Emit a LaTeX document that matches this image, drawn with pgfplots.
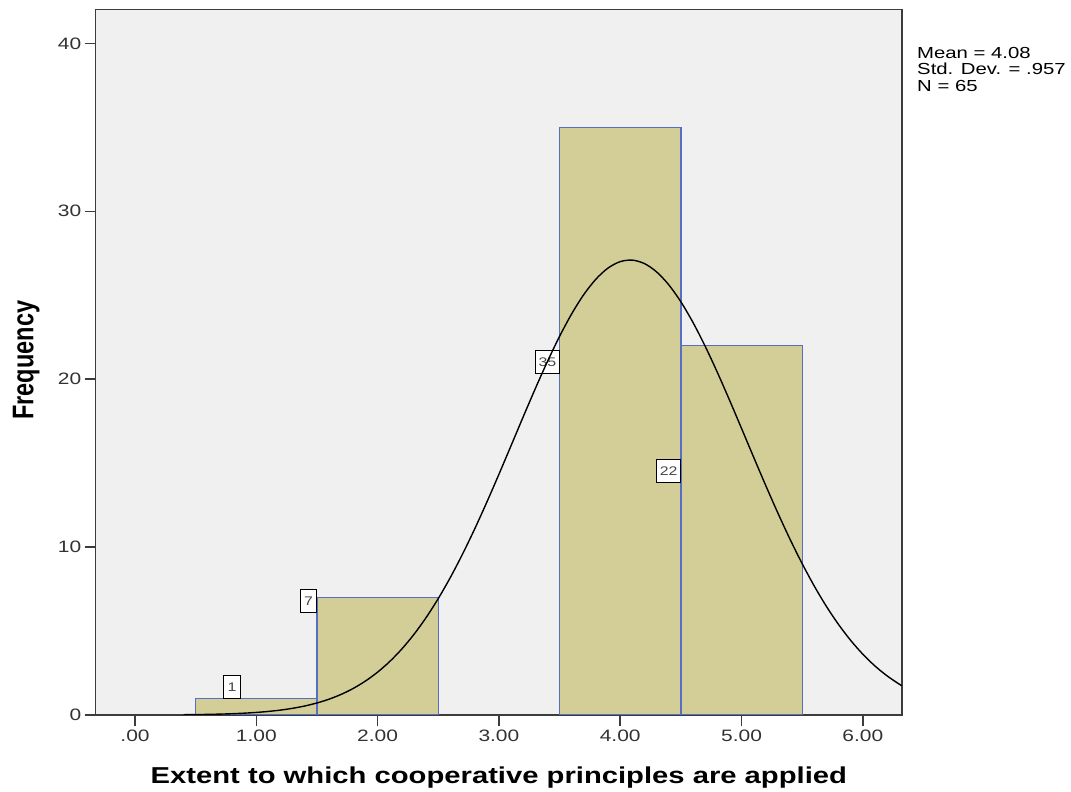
\documentclass[border=0pt]{standalone}
\usepackage{fontspec}
\setmainfont{Liberation Sans}[FakeStretch=1.27]
\newfontfamily\plainsans{Liberation Sans}
\usepackage{pgfplots}
\pgfplotsset{compat=1.18}
\usetikzlibrary{calc}
\definecolor{barfill}{RGB}{211,206,152}
\definecolor{barline}{RGB}{88,110,196}
\definecolor{bggray}{RGB}{240,240,240}
\definecolor{axisgray}{RGB}{60,60,60}
\definecolor{tickgray}{RGB}{50,50,50}
\definecolor{labelgray}{RGB}{70,70,70}
\tikzset{lbl/.style={draw=black, fill=white, line width=1pt, inner ysep=0pt, minimum height=23pt, font=\fontsize{12.5}{13}\selectfont, text=labelgray}}
\begin{document}
\begin{tikzpicture}
\begin{axis}[
  scale only axis, width=806.3pt, height=705.7pt,
  xmin=-0.324, xmax=6.323, ymin=0, ymax=42.03,
  axis background/.style={fill=bggray},
  axis line style={draw=axisgray, line width=1.5pt},
  xtick={0,1,2,3,4,5,6},
  xticklabels={.00,1.00,2.00,3.00,4.00,5.00,6.00},
  ytick={0,10,20,30,40},
  tick pos=left, tick align=outside, major tick length=11pt,
  tick style={draw=axisgray, line width=1.5pt},
  tick label style={font=\fontsize{16.5}{18}\selectfont, text=tickgray},
  /pgf/number format/assume math mode=true,
]
\addplot[ybar interval, fill=barfill, draw=barline, line width=1.3pt]
  coordinates {(0.5,1) (1.5,7) (2.5,7)};
\addplot[ybar interval, fill=barfill, draw=barline, line width=1.3pt]
  coordinates {(3.5,35) (4.5,22) (5.5,22)};
\node[lbl, inner xsep=4pt] at (axis cs:0.80,1.67) {1};
\node[lbl, inner xsep=4pt] at (axis cs:1.43,6.79) {7};
\node[lbl, inner xsep=3pt] at (axis cs:3.40,21.02) {35};
\node[lbl, inner xsep=3pt] at (axis cs:4.40,14.53) {22};
\addplot[black, line width=1.4pt, smooth] coordinates {
(0.4,0.017) (0.5,0.025) (0.6,0.036) (0.7,0.053) (0.8,0.076) (0.9,0.109)
(1.0,0.153) (1.1,0.213) (1.2,0.293) (1.3,0.399) (1.4,0.537) (1.5,0.716)
(1.6,0.943) (1.7,1.230) (1.8,1.586) (1.9,2.024) (2.0,2.553) (2.1,3.187)
(2.2,3.935) (2.3,4.805) (2.4,5.804) (2.5,6.935) (2.6,8.196) (2.7,9.581)
(2.8,11.077) (2.9,12.671) (3.0,14.334) (3.1,16.040) (3.2,17.755) (3.3,19.438)
(3.4,21.051) (3.5,22.551) (3.6,23.894) (3.7,25.043) (3.8,25.961) (3.9,26.622)
(4.0,27.002) (4.1,27.091) (4.2,26.885) (4.3,26.390) (4.4,25.624) (4.5,24.609)
(4.6,23.378) (4.7,21.967) (4.8,20.418) (4.9,18.771) (5.0,17.070) (5.1,15.355)
(5.2,13.661) (5.3,12.023) (5.4,10.466) (5.5,9.013) (5.6,7.676) (5.7,6.466)
(5.8,5.389) (5.9,4.442) (6.0,3.621) (6.1,2.920) (6.2,2.330) (6.3,1.838)
(6.32,1.751)};
\end{axis}
\node[anchor=base, font=\fontsize{23}{26}\selectfont\bfseries] at ($(current axis.south)+(0,-68pt)$) {Extent to which cooperative principles are applied};
\node[rotate=90, anchor=base, inner sep=0pt] at ($(current axis.west)+(-62.4pt,2pt)$) {\scalebox{1}[1.27]{\plainsans\bfseries\fontsize{23.5}{26}\selectfont Frequency}};
\node[anchor=base west, inner sep=0pt, font=\fontsize{16}{17}\selectfont] at ($(current axis.north east)+(15pt,-49pt)$) {Mean = 4.08};
\node[anchor=base west, inner sep=0pt, font=\fontsize{16}{17}\selectfont] at ($(current axis.north east)+(15pt,-65.7pt)$) {Std. Dev. = .957};
\node[anchor=base west, inner sep=0pt, font=\fontsize{16}{17}\selectfont] at ($(current axis.north east)+(15pt,-82.4pt)$) {N = 65};
\path ($(current axis.south west)+(-95.7pt,-75pt)$) rectangle ($(current axis.north east)+(169pt,9.3pt)$);
\end{tikzpicture}
\end{document}
